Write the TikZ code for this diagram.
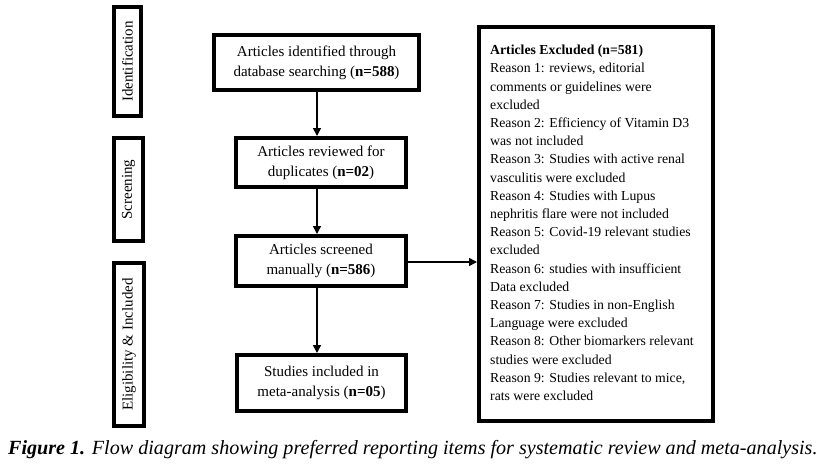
\documentclass[tikz,border=0pt]{standalone}
\usepackage{fontspec}
\setmainfont{Liberation Serif}
\usetikzlibrary{arrows.meta}
\begin{document}
\begin{tikzpicture}[x=1pt,y=-1pt,
  flowbox/.style={draw=black,line width=4pt,fill=white,align=center,inner sep=0pt,
    font=\fontsize{15}{20}\selectfont},
  stagebox/.style={draw=black,line width=4pt,fill=white,inner sep=0pt},
  stagelabel/.style={rotate=90,font=\fontsize{15}{18}\selectfont,inner sep=0pt},
  conn/.style={line width=1.5pt,-{Triangle[length=8pt,width=8pt]}}]
\useasboundingbox (0,0) rectangle (831,466);
% stage boxes
\node[stagebox,minimum width=27pt,minimum height=109pt] (sid) at (127.5,61.5) {};
\node[stagelabel] (lid) at (sid.center) {Identification};
\node[stagebox,minimum width=29pt,minimum height=103pt] (ssc) at (128.5,189.5) {};
\node[stagelabel] (lsc) at (ssc.center) {Screening};
\node[stagebox,minimum width=30pt,minimum height=163pt] (sel) at (129,344.5) {};
\node[stagelabel] (lel) at (sel.center) {Eligibility \& Included};
% flow boxes
\node[flowbox,minimum width=205pt,minimum height=55pt] (b1) at (316.5,62.5)
  {Articles identified through\\database searching (\textbf{n=588})};
\node[flowbox,minimum width=170pt,minimum height=49pt] (b2) at (321,162.5)
  {Articles reviewed for\\duplicates (\textbf{n=02})};
\node[flowbox,minimum width=170pt,minimum height=50pt] (b3) at (321,261)
  {Articles screened\\manually (\textbf{n=586})};
\node[flowbox,minimum width=169pt,minimum height=56pt] (b4) at (321.5,383)
  {Studies included in\\meta-analysis (\textbf{n=05})};
% excluded box
\node[stagebox,minimum width=234pt,minimum height=394pt] (ex) at (596,224) {};
\node[anchor=north west,align=left,inner sep=0pt,font=\fontsize{13.75}{18.2}\selectfont] (ext) at (490,45)
  {\textbf{Articles Excluded (n=581)}\\
   Reason 1: reviews, editorial\\
   comments or guidelines were\\
   excluded\\
   Reason 2: Efficiency of Vitamin D3\\
   was not included\\
   Reason 3: Studies with active renal\\
   vasculitis were excluded\\
   Reason 4: Studies with Lupus\\
   nephritis flare were not included\\
   Reason 5: Covid-19 relevant studies\\
   excluded\\
   Reason 6: studies with insufficient\\
   Data excluded\\
   Reason 7: Studies in non-English\\
   Language were excluded\\
   Reason 8: Other biomarkers relevant\\
   studies were excluded\\
   Reason 9: Studies relevant to mice,\\
   rats were excluded};
% connectors
\coordinate (ax) at (317,0);
\draw[conn] (b1.south -| ax) -- (b2.north -| ax);
\draw[conn] (b2.south -| ax) -- (b3.north -| ax);
\draw[conn] (b3.south -| ax) -- (b4.north -| ax);
\draw[conn] (b3.east |- 0,262) -- (ex.west |- 0,262);
% caption
\node[anchor=base west,inner sep=0pt,font=\fontsize{20.1}{22}\selectfont\itshape] (cap) at (8,454)
  {\textbf{Figure 1.} Flow diagram showing preferred reporting items for systematic review and meta-analysis.};
\end{tikzpicture}
\end{document}
